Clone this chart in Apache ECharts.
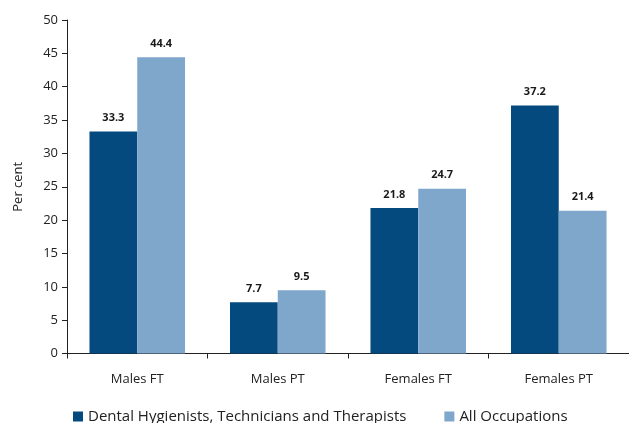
<!DOCTYPE html>
<html>
<head>
<meta charset="utf-8">
<script src="https://cdn.jsdelivr.net/npm/echarts@6/dist/echarts.min.js"></script>
<style>
  html, body { margin: 0; padding: 0; background: #fff; }
  #chart { width: 629px; height: 423px; }
</style>
</head>
<body>
<div id="chart"></div>
<script>
// Share of workers by sex and full-time / part-time status
const categories = ['Males FT', 'Males PT', 'Females FT', 'Females PT'];
const dentalValues = [33.3, 7.7, 21.8, 37.2];
const allOccValues = [44.4, 9.5, 24.7, 21.4];
const yTicks = [0, 5, 10, 15, 20, 25, 30, 35, 40, 45, 50];
const seriesNames = ['Dental Hygienists, Technicians and Therapists', 'All Occupations'];

const FONT = '"Open Sans", "Liberation Sans", sans-serif';
const chart = echarts.init(document.getElementById('chart'));

const labelStyle = {
  show: true,
  position: 'top',
  distance: 8,
  fontFamily: FONT,
  fontSize: 11,
  fontWeight: 'bold',
  color: '#1a1a1a',
  formatter: p => p.value.toFixed(1)
};

chart.setOption({
  animation: false,
  grid: { left: 67, right: 0, top: 20, bottom: 69.5 },
  legend: {
    top: 409,
    left: 73,
    itemWidth: 10,
    itemHeight: 10,
    itemGap: 38,
    icon: 'rect',
    padding: 0,
    textStyle: { fontFamily: FONT, fontSize: 15, color: '#222' },
    data: seriesNames
  },
  xAxis: {
    type: 'category',
    data: categories,
    axisLine: { lineStyle: { color: '#222', width: 1 } },
    axisTick: { show: true, length: 5, lineStyle: { color: '#222' } },
    axisLabel: { fontFamily: FONT, fontSize: 13, color: '#222', margin: 19 }
  },
  yAxis: {
    type: 'value',
    min: yTicks[0],
    max: yTicks[yTicks.length - 1],
    interval: yTicks[1] - yTicks[0],
    name: 'Per cent',
    nameLocation: 'middle',
    nameGap: 42,
    nameTextStyle: { fontFamily: FONT, fontSize: 13, color: '#222' },
    axisLine: { show: true, lineStyle: { color: '#222', width: 1 } },
    axisTick: { show: true, inside: false, length: 5, lineStyle: { color: '#222' } },
    axisLabel: { fontFamily: FONT, fontSize: 13, color: '#222', margin: 9 },
    splitLine: { show: false }
  },
  series: [
    {
      name: seriesNames[0],
      type: 'bar',
      data: dentalValues,
      barGap: '0%',
      barCategoryGap: '32%',
      itemStyle: { color: '#044a7e' },
      label: labelStyle
    },
    {
      name: seriesNames[1],
      type: 'bar',
      data: allOccValues,
      itemStyle: { color: '#7fa6cb' },
      label: labelStyle
    }
  ]
});
</script>
</body>
</html>
